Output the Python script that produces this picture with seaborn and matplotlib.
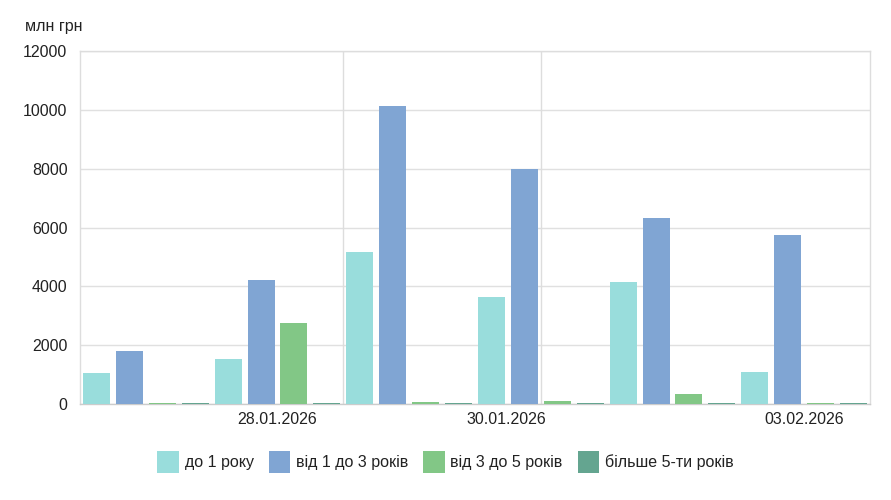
import pandas as pd
import seaborn as sns
import matplotlib.pyplot as plt
from matplotlib.patches import FancyBboxPatch

# data
dates = ['27.01.2026', '28.01.2026', '29.01.2026', '30.01.2026', '02.02.2026', '03.02.2026']
series = ['до 1 року', 'від 1 до 3 років', 'від 3 до 5 років', 'більше 5-ти років']
up_to_1 = [1050, 1530, 5170, 3650, 4150, 1100]
from_1_to_3 = [1800, 4230, 10130, 8000, 6330, 5750]
from_3_to_5 = [40, 2770, 70, 100, 350, 40]
over_5 = [40, 40, 40, 40, 40, 40]
colors = ['#99dddc', '#80a5d3', '#82c786', '#64a590']

shown_labels = ['28.01.2026', '30.01.2026', '03.02.2026']

rows = []
for vals, name in zip([up_to_1, from_1_to_3, from_3_to_5, over_5], series):
    for d, v in zip(dates, vals):
        rows.append([d, name, v])
df = pd.DataFrame(rows, columns=['date', 'term', 'value'])

sns.set_style('white')
plt.rcParams['font.family'] = ['Liberation Sans', 'DejaVu Sans']

fig = plt.figure(figsize=(8.91, 5), dpi=100)
ax = fig.add_axes([80 / 891, 1 - 404 / 500, 790 / 891, 353 / 500])

sns.barplot(data=df, x='date', y='value', hue='term', order=dates, hue_order=series,
            palette=colors, saturation=1, width=1.0, gap=0.18, ax=ax, legend=False,
            edgecolor='none', linewidth=0, zorder=3)

ax.set_xlim(-0.5, len(dates) - 0.5)
ax.set_ylim(0, 12000)
ax.set_yticks(range(0, 12001, 2000))
ax.set_yticklabels([str(v) for v in range(0, 12001, 2000)], fontsize=11.5, color='#222222')
ax.yaxis.grid(True, color='#e0e0e0', linewidth=1, zorder=0)
ax.set_axisbelow(True)

# odd vertical guides as in the original
for xv in [1.5, 3.0]:
    ax.axvline(xv, color='#dddddd', linewidth=1, zorder=1)

ax.set_xticks([dates.index('28.01.2026'), 2.74, dates.index('03.02.2026')])
ax.set_xticklabels(shown_labels, fontsize=11.5, color='#222222')
ax.tick_params(axis='both', length=0, pad=6)
ax.tick_params(axis='y', pad=9)
ax.set_xlabel('')
ax.set_ylabel('')
for s in ax.spines.values():
    s.set_color('#dddddd')
    s.set_linewidth(1)
ax.spines['bottom'].set_color('#cccccc')

fig.text(25 / 891, 1 - 27 / 500, 'млн грн', fontsize=11.5, color='#222222', va='center')

# legend with rounded squares
handles = [FancyBboxPatch((0, 0), 1, 1, boxstyle='round,pad=0.1', facecolor=c, edgecolor='none')
           for c in colors]
fig.legend(handles, series, loc='center', bbox_to_anchor=(0.5, 1 - 462 / 500), ncol=4,
           frameon=False, fontsize=11.5, handlelength=1.35, handleheight=1.75,
           handletextpad=0.35, columnspacing=0.95, labelcolor='#222222')

fig.savefig('out.png', dpi=100)
